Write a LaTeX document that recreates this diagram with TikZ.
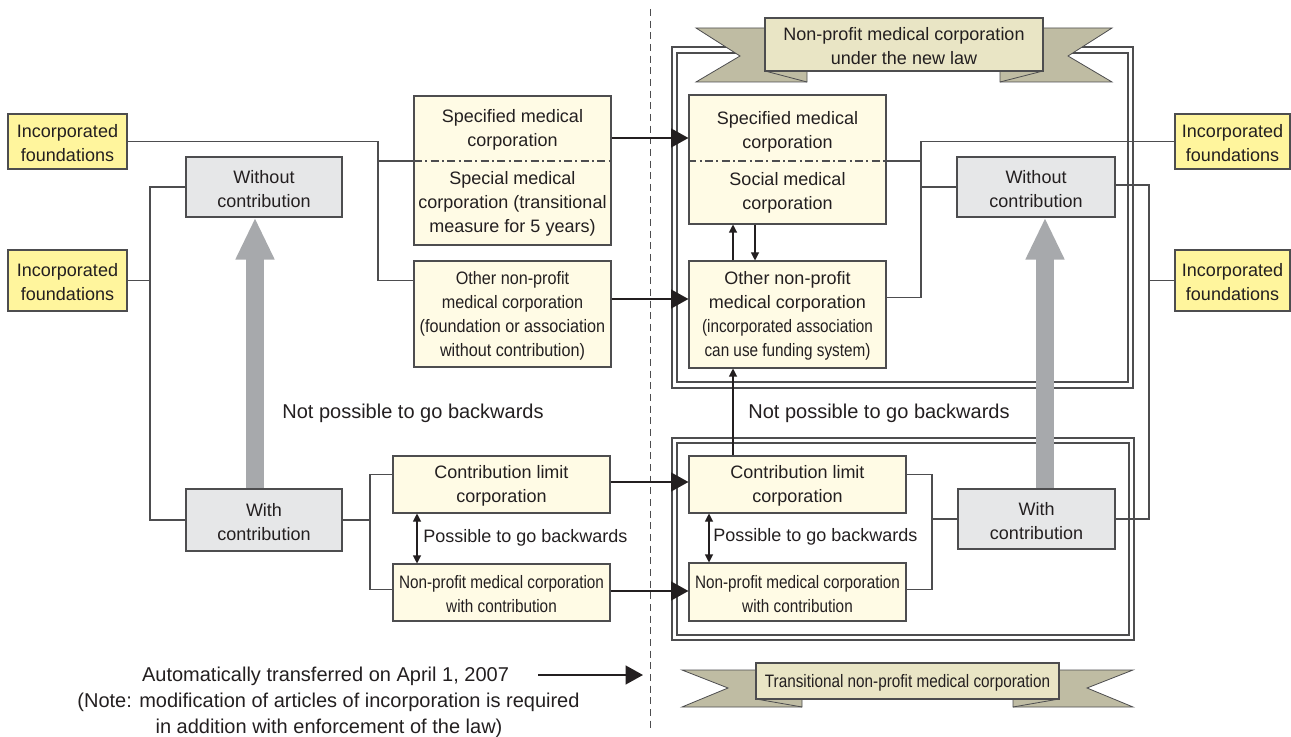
\documentclass[tikz,border=0pt]{standalone}
\usepackage{fontspec}
\setmainfont{Liberation Sans}
\newfontfamily\narrowf[FakeStretch=0.85]{Liberation Sans}
\newfontfamily\narrowg[FakeStretch=0.9]{Liberation Sans}
\usetikzlibrary{arrows.meta,fit}
\definecolor{txtc}{HTML}{231F20}
\definecolor{linec}{HTML}{4D4D4F}
\definecolor{yelc}{HTML}{FFF59D}
\definecolor{crmc}{HTML}{FFFBE5}
\definecolor{gryc}{HTML}{E6E7E8}
\definecolor{bigarr}{HTML}{A7A9AC}
\definecolor{tailc}{HTML}{BFBCA3}
\definecolor{banc}{HTML}{E9E5C5}
\begin{document}
\begin{tikzpicture}[x=0.75pt,y=-0.75pt,
  font=\fontsize{13.5}{18}\selectfont, text=txtc,
  box/.style={draw=linec, line width=0.8pt, inner sep=0pt},
  ybox/.style={box, fill=yelc},
  cbox/.style={box, fill=crmc},
  gbox/.style={box, fill=gryc},
  conn/.style={draw=linec, line width=0.8pt},
  bigarrow/.style={draw=txtc, line width=1.6pt, -{Triangle[length=13pt,width=14pt]}},
  smallarrow/.style={draw=txtc, line width=0.8pt, -{Triangle[length=6pt,width=6pt]}},
  dblarrow/.style={draw=txtc, line width=0.8pt, {Triangle[length=6pt,width=6pt]}-{Triangle[length=6pt,width=6pt]}},
  greyarrow/.style={draw=bigarr, line width=13.5pt, -{Triangle[length=31.5pt,width=27pt]}},
  dashdot/.style={draw=linec, line width=0.8pt, dash pattern=on 6pt off 2.5pt on 1.5pt off 2.5pt},
  frame/.style={draw=linec, line width=0.8pt},
  lbl/.style={align=center, inner sep=0pt, yshift=-1.3pt},
  big/.style={font=\fontsize{15}{19}\selectfont},
  nfont/.style={font=\narrowf\fontsize{13.5}{18}\selectfont},
  gfont/.style={font=\narrowg\fontsize{13.5}{18}\selectfont},
  tail/.style={fill=tailc, draw=linec, line width=0.6pt},
  banner/.style={fill=banc, draw=linec, line width=0.8pt, inner sep=0pt}]
\useasboundingbox (0,0) rectangle (1291,737);

% double frames
\draw[frame] (672,47) rectangle (1133,388);
\draw[frame] (677,53) rectangle (1128,382);
\draw[frame] (672,438) rectangle (1134,640);
\draw[frame] (677,443) rectangle (1129,635);

% dashed divider
\draw[draw=linec, line width=0.7pt, dash pattern=on 5.25pt off 3.5pt] (650,9) -- (650,730);

% banners
\draw[tail] (696,28) -- (807,28) -- (807,82) -- (696,82) -- (740,56) -- cycle;
\draw[tail] (1112,28) -- (1000,28) -- (1000,82) -- (1112,82) -- (1068,56) -- cycle;
\draw[linec, line width=0.6pt] (765,71) -- (807,82);
\draw[linec, line width=0.6pt] (1043,71) -- (1000,82);
\node[banner, fit={(765,18)(1043,71)}] (topban) {};
\node[lbl] (topbant) at (topban.center) {Non-profit medical corporation\\under the new law};

\draw[tail] (682,670) -- (802,670) -- (802,707) -- (682,707) -- (728,688) -- cycle;
\draw[tail] (1133,670) -- (1013,670) -- (1013,707) -- (1133,707) -- (1087,688) -- cycle;
\draw[linec, line width=0.6pt] (756,699) -- (802,707);
\draw[linec, line width=0.6pt] (1059,699) -- (1013,707);
\node[banner, fit={(756,663)(1059,699)}] (botban) {};
\node[lbl, nfont] (botbant) at (botban.center) {Transitional non-profit medical corporation};

% boxes left
\node[ybox, fit={(8,114)(127,169)}] (ifL1) {};
\node[ybox, fit={(8,250)(127,311)}] (ifL2) {};
\node[gbox, fit={(186,157)(342,217)}] (woL) {};
\node[gbox, fit={(186,489)(342,551)}] (wiL) {};
\node[cbox, fit={(414,96)(611,245)}] (spL) {};
\node[cbox, fit={(414,261)(611,367)}] (onL) {};
\node[cbox, fit={(393,456)(610,513)}] (clL) {};
\node[cbox, fit={(393,564)(610,621)}] (npL) {};

% boxes right
\node[cbox, fit={(689,95)(886,224)}] (spR) {};
\node[cbox, fit={(689,261)(886,368)}] (onR) {};
\node[cbox, fit={(689,456)(906,513)}] (clR) {};
\node[cbox, fit={(689,563)(906,621)}] (npR) {};
\node[gbox, fit={(958,489)(1115,549)}] (wiR) {};
\node[gbox, fit={(957,157)(1115,217)}] (woR) {};
\node[ybox, fit={(1175,114)(1290,169)}] (ifR1) {};
\node[ybox, fit={(1175,250)(1290,311)}] (ifR2) {};

% box texts
\node[lbl] (ifL1t) at (ifL1.center) {Incorporated\\foundations};
\node[lbl] (ifL2t) at (ifL2.center) {Incorporated\\foundations};
\node[lbl] (woLt) at (woL.center) {Without\\contribution};
\node[lbl] (wiLt) at (wiL.center) {With\\contribution};
\node[lbl] (spLa) at (512.5,128.5) {Specified medical\\corporation};
\node[lbl] (spLb) at (512.5,202) {Special medical\\corporation (transitional\\measure for 5 years)};
\node[lbl, gfont] (onLt) at (onL.center) {Other non-profit\\medical corporation\\(foundation or association\\without contribution)};
\node[lbl] (clLt) at (clL.center) {Contribution limit\\corporation};
\node[lbl, nfont] (npLt) at (npL.center) {Non-profit medical corporation\\with contribution};

\node[lbl] (spRa) at (787.5,130.5) {Specified medical\\corporation};
\node[lbl] (spRb) at (787.5,191) {Social medical\\corporation};
\node[lbl] (onRt) at (onR.center) {Other non-profit\\medical corporation\\{\narrowf (incorporated association}\\{\narrowf can use funding system)}};
\node[lbl] (clRt) at (clR.center) {Contribution limit\\corporation};
\node[lbl, nfont] (npRt) at (npR.center) {Non-profit medical corporation\\with contribution};
\node[lbl] (wiRt) at (wiR.center) {With\\contribution};
\node[lbl] (woRt) at (woR.center) {Without\\contribution};
\node[lbl] (ifR1t) at (ifR1.center) {Incorporated\\foundations};
\node[lbl] (ifR2t) at (ifR2.center) {Incorporated\\foundations};

% junction columns and attachment points
\coordinate (xa) at (378,0);
\coordinate (xb) at (150,0);
\coordinate (xc) at (370,0);
\coordinate (xd) at (921,0);
\coordinate (xe) at (1149,0);
\coordinate (xf) at (932,0);
\coordinate (splitL) at (414,161);
\coordinate (splitR) at (886,161);
\coordinate (clLin) at ([yshift=7.5pt]clL.west);
\coordinate (npLin) at ([yshift=2.5pt]npL.west);
\coordinate (clRout) at ([yshift=7.5pt]clR.east);
\coordinate (npRout) at ([yshift=2pt]npR.east);
\coordinate (onRout) at ([yshift=13pt]onR.east);
\coordinate (woRout) at ([yshift=1.5pt]woR.east);

% connectors left
\draw[conn] (ifL1.east) -| (xa |- ifL2.east) -- (ifL2.east -| onL.west);
\draw[conn] (xa |- splitL) -- (splitL);
\draw[dashdot] (splitL) -- (spL.east |- splitL);
\draw[conn] (ifL2.east) -- (xb |- ifL2.east);
\draw[conn] (woL.west) -| (xb |- wiL.west) -- (wiL.west);
\draw[conn] (wiL.east) -- (xc |- wiL.east);
\draw[conn] (clLin) -| (xc |- npLin) -- (npLin);

% connectors right
\draw[dashdot] (spR.west |- splitR) -- (splitR);
\draw[conn] (splitR) -- (xd |- splitR);
\draw[conn] (ifR1.west) -| (xd |- onRout) -- (onRout);
\draw[conn] (woR.west) -- (xd |- woR.west);
\draw[conn] (woRout) -| (xe |- wiR.east) -- (wiR.east);
\draw[conn] (ifR2.west) -- (xe |- ifR2.west);
\draw[conn] (clRout) -| (xf |- npRout) -- (npRout);
\draw[conn] (wiR.west) -- (xf |- wiR.west);

% grey arrows
\draw[greyarrow] (wiL.north -| 255,0) -- (woL.south -| 255,0);
\draw[greyarrow] (wiR.north -| 1045,0) -- (woR.south -| 1045,0);

% transfer arrows
\draw[bigarrow] (spL.east |- 0,138) -- (spR.west |- 0,138);
\draw[bigarrow] (onL.east |- 0,299) -- (onR.west |- 0,299);
\draw[bigarrow] (clL.east |- 0,482) -- (clR.west |- 0,482);
\draw[bigarrow] (npL.east |- 0,591) -- (npR.west |- 0,591);

% small arrows
\draw[smallarrow] (onR.north -| 733,0) -- (spR.south -| 733,0);
\draw[smallarrow] (spR.south -| 755,0) -- (onR.north -| 755,0);
\draw[smallarrow] (clR.north -| 733,0) -- (onR.south -| 733,0);
\draw[dblarrow] (clL.south -| 417,0) -- (npL.north -| 417,0);
\draw[dblarrow] (clR.south -| 709,0) -- (npR.north -| 709,0);

% labels
\node[lbl, big] (nbL) at (413,412) {Not possible to go backwards};
\node[lbl, big] (nbR) at (879,412) {Not possible to go backwards};
\node[lbl, anchor=west] (pbL) at (423,536) {Possible to go backwards};
\node[lbl, anchor=west] (pbR) at (713,535) {Possible to go backwards};

\node[lbl, big] (auto) at (325.5,675) {Automatically transferred on April 1, 2007};
\coordinate (autostart) at (538,675);
\coordinate (autoend) at (643,675);
\draw[bigarrow] (autostart) -- (autoend);
\node[lbl, big] (note1) at (328.5,701) {(Note: modification of articles of incorporation is required};
\node[lbl, big] (note2) at (329,727) {in addition with enforcement of the law)};
\end{tikzpicture}
\end{document}
